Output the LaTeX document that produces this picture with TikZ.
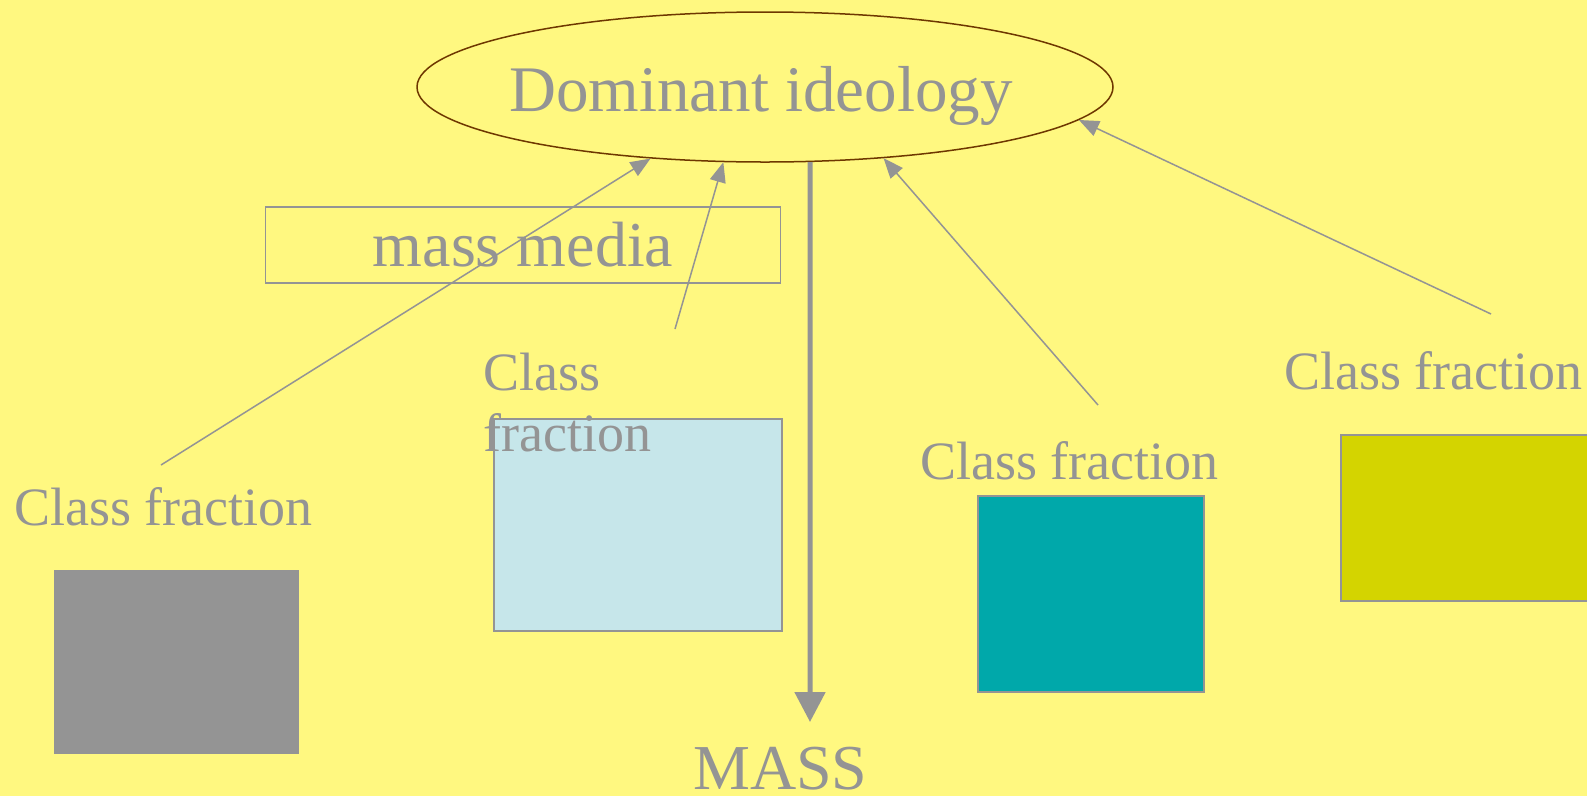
\documentclass[tikz,border=0pt]{standalone}
\usepackage{fontspec}
\setmainfont{Liberation Serif}
\usetikzlibrary{positioning,shapes.geometric,arrows.meta}

\definecolor{slidebg}{RGB}{255,248,128}
\definecolor{txtgray}{RGB}{148,148,148}
\definecolor{ellbrown}{RGB}{110,55,0}
\definecolor{paleblue}{RGB}{198,230,234}
\definecolor{teal}{RGB}{0,168,170}
\definecolor{olive}{RGB}{212,212,0}

\begin{document}
\begin{tikzpicture}[x=1pt, y=-1pt,
    classtext/.style={text=txtgray, inner sep=0pt, font=\fontsize{54}{61}\selectfont},
    bigtext/.style={text=txtgray, inner sep=0pt, font=\fontsize{64}{76}\selectfont},
    fraction/.style={draw=txtgray, line width=1.5pt, inner sep=0pt, anchor=north west},
    arrow/.style={-{Triangle[length=20pt,width=16pt]}, draw=txtgray, line width=1.5pt},
    bigarrow/.style={-{Triangle[length=30pt,width=30pt]}, draw=txtgray, line width=5pt}
]
\useasboundingbox (0,0) rectangle (1587,796);
\fill[slidebg] (0,0) rectangle (1587,796);

% Ideology
\node[ellipse, draw=ellbrown, line width=1.5pt, inner sep=0pt,
      minimum width=696pt, minimum height=150pt] (ideo) at (765,87) {};
\node[bigtext, font=\fontsize{65}{78}\selectfont, anchor=base] (ideotext) at (761,111) {Dominant ideology};
\node[bigtext, draw=txtgray, line width=1.5pt, minimum width=515pt, minimum height=76pt] (media) at (523,245) {mass media};
\node[bigtext, anchor=base west] (mass) at (693,789) {MASS};

% Class fractions
\node[fraction, fill=txtgray, minimum width=243pt, minimum height=182pt] (grey) at (54,570) {};
\node[fraction, fill=paleblue, minimum width=288pt, minimum height=212pt] (blue) at (493,418) {};
\node[fraction, fill=teal, minimum width=226pt, minimum height=196pt] (green) at (977,495) {};
\node[fraction, fill=olive, minimum width=270pt, minimum height=166pt] (yellow) at (1340,434) {};

\node[classtext, anchor=base west] (fracA) at (14,525) {Class fraction};
\node[classtext, anchor=base west, align=left] (fracB) at (483,451) {Class\\fraction};
\node[classtext, anchor=base west] (fracC) at (920,479) {Class fraction};
\node[classtext, anchor=base west] (fracD) at (1284,389) {Class fraction};

% Connections
\coordinate (tailA) at (161,465);
\coordinate (tailB) at (675,329);
\coordinate (tailC) at (1098,405);
\coordinate (tailD) at (1491,314);
\coordinate (massend) at (810,722);
\draw[arrow] (tailA) -- (ideo.212);
\draw[arrow] (tailB) -- (ideo.241);
\draw[arrow] (tailC) -- (ideo.-31);
\draw[arrow] (tailD) -- (ideo.-6);
\draw[bigarrow] (ideo.-59) -- (massend);

\end{tikzpicture}
\end{document}
